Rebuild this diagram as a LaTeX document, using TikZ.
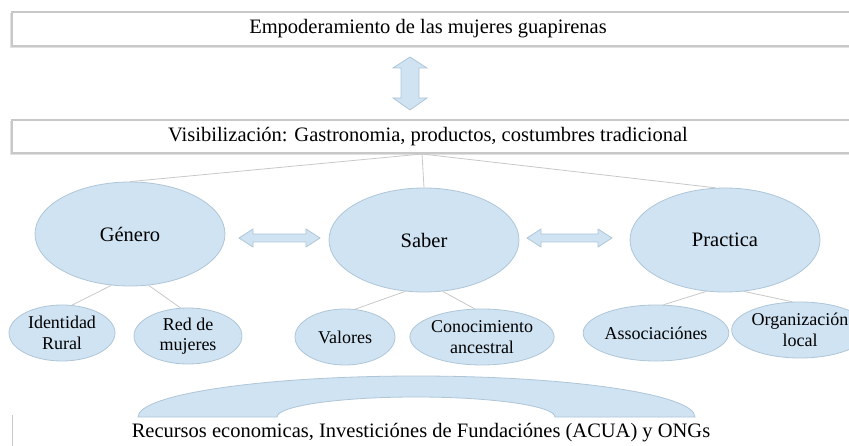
\documentclass[tikz,border=0pt]{standalone}
\usepackage{fontspec}
\setmainfont{Liberation Serif}
\usetikzlibrary{shapes.geometric}
\definecolor{fillblue}{RGB}{207,227,242}
\definecolor{edgeblue}{RGB}{175,198,216}
\definecolor{linegray}{RGB}{200,200,200}
\definecolor{boxgray}{RGB}{200,200,200}
\definecolor{shadowgray}{RGB}{225,225,225}
\tikzset{
  bigtext/.style={font=\fontsize{20.5}{23}\selectfont},
  smalltext/.style={font=\fontsize{18}{20.5}\selectfont, align=center},
  topbox/.style={draw=boxgray, line width=1.1pt, fill=white},
  boxshadow/.style={draw=shadowgray, line width=1.4pt},
  bigell/.style={ellipse, draw=edgeblue, fill=fillblue, line width=0.8pt, inner sep=0pt, bigtext},
  smallell/.style={ellipse, draw=edgeblue, fill=fillblue, line width=0.8pt, inner sep=0pt, smalltext},
  conn/.style={draw=linegray, line width=0.8pt},
  blockarrow/.style={draw=edgeblue, fill=fillblue, line width=0.8pt, line join=miter}
}
\begin{document}
\begin{tikzpicture}[x=1pt,y=-1pt]
\useasboundingbox (0,0) rectangle (849,446);
% boxes
\draw[boxshadow] (11,13.5) rectangle (862,47.5);
\draw[topbox] (12,12) rectangle (862,46);
\node[bigtext] (emp) at (428,29) {Empoderamiento de las mujeres guapirenas};
\draw[boxshadow] (11,121.5) rectangle (862,154.5);
\draw[topbox] (12,120) rectangle (862,153);
\node[bigtext] (vis) at (428,137) {Visibilización: Gastronomia, productos, costumbres tradicional};
\coordinate (vb) at (422,154);
% vertical double arrow
\draw[blockarrow] (410,57) -- (427,68) -- (419,68) -- (419,98) -- (427,98) -- (410,110) -- (393,98) -- (401,98) -- (401,68) -- (393,68) -- cycle;
% big ellipses
\node[bigell, minimum width=190pt, minimum height=104pt] (gen) at (130,234) {Género};
\node[bigell, minimum width=190pt, minimum height=104pt] (sab) at (424,240) {Saber};
\node[bigell, minimum width=190pt, minimum height=104pt] (pra) at (725,240) {Practica};
% horizontal double arrows
\draw[blockarrow] (239,238) -- (253,229) -- (253,234) -- (306,234) -- (306,229) -- (320,238) -- (306,247) -- (306,242) -- (253,242) -- (253,247) -- cycle;
\draw[blockarrow] (527,238) -- (541,229) -- (541,234) -- (598,234) -- (598,229) -- (612,238) -- (598,247) -- (598,242) -- (541,242) -- (541,247) -- cycle;
% connectors from visibilizacion
\draw[conn] (vb) -- (gen.north);
\draw[conn] (vb) -- (sab.north);
\draw[conn] (vb) -- (pra.100);
% small ellipses
\node[smallell, minimum width=106pt, minimum height=56pt] (ide) at (62,333) {Identidad\\Rural};
\node[smallell, minimum width=108pt, minimum height=56pt] (red) at (188,336) {Red de\\mujeres};
\node[smallell, minimum width=100pt, minimum height=56pt] (val) at (345,337) {Valores};
\node[smallell, minimum width=112pt, minimum height=56pt] (con) at (482,337) {Conocimiento\\ancestral};
\node[smallell, minimum width=110pt, minimum height=56pt] (aso) at (656,333) {Associaciónes};
\node[smallell, minimum width=112pt, minimum height=56pt] (org) at (800,330) {Organización\\local};
% connectors to small ellipses
\draw[conn] (gen.-110) -- (ide.70);
\draw[conn] (gen.-70) -- (red.105);
\draw[conn] (sab.-110) -- (val.70);
\draw[conn] (sab.-70) -- (con.105);
\draw[conn] (pra.-110) -- (aso.75);
\draw[conn] (pra.-70) -- (org.105);
% arch
\draw[blockarrow] (138,417) arc[start angle=180, end angle=360, x radius=278.5, y radius=41] -- (555,417) arc[start angle=0, end angle=-180, x radius=139, y radius=20] -- cycle;
\node[bigtext] (rec) at (421,433) {Recursos economicas, Investiciónes de Fundaciónes (ACUA) y ONGs};
% left thin line
\draw[draw=boxgray, line width=0.8pt] (12,415) -- (12,446);
\end{tikzpicture}
\end{document}
